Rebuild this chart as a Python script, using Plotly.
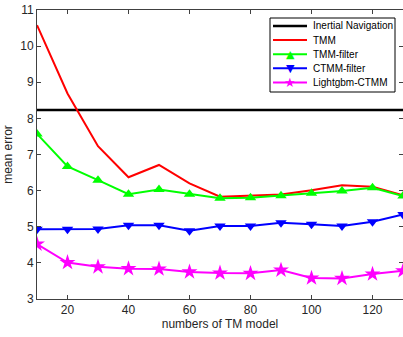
import plotly.graph_objects as go

x_vals = [10, 20, 30, 40, 50, 60, 70, 80, 90, 100, 110, 120, 130]
inertial = [8.23] * 13
tmm = [10.58, 8.69, 7.23, 6.37, 6.71, 6.20, 5.83, 5.85, 5.89, 6.01, 6.15, 6.11, 5.87]
tmm_filter = [7.57, 6.67, 6.29, 5.90, 6.03, 5.90, 5.79, 5.80, 5.86, 5.93, 5.99, 6.08, 5.85]
ctmm_filter = [4.93, 4.93, 4.94, 5.04, 5.04, 4.89, 5.02, 5.02, 5.11, 5.07, 5.02, 5.14, 5.34]
lightgbm = [4.52, 4.01, 3.89, 3.84, 3.83, 3.75, 3.72, 3.71, 3.80, 3.58, 3.57, 3.69, 3.78]
x_ticks = [20, 40, 60, 80, 100, 120]
y_ticks = [3, 4, 5, 6, 7, 8, 9, 10, 11]

series_names = ["Inertial Navigation", "TMM", "TMM-filter", "CTMM-filter", "Lightgbm-CTMM"]
series_values = [inertial, tmm, tmm_filter, ctmm_filter, lightgbm]
series_colors = ["#000000", "#ff0000", "#00ff00", "#0000ff", "#ff00ff"]
series_symbols = [None, None, "triangle-up", "triangle-down", "star"]
legend_glyphs = {"triangle-up": "▲", "triangle-down": "▼", "star": "★"}

# layout geometry (pixels)
W, H = 403, 337
ML, MR, MT, MB = 37, 0, 10, 38
PW, PH = W - ML - MR, H - MT - MB

def px_x(px):
    return (px - ML) / PW

def px_y(py):
    return 1 - (py - MT) / PH

fig = go.Figure()
for name, vals, color, sym in zip(series_names, series_values, series_colors, series_symbols):
    width = 2.5 if name.startswith("Inertial") else 2
    if sym is None:
        fig.add_trace(go.Scatter(x=x_vals, y=vals, mode="lines", name=name,
                                 line=dict(color=color, width=width), showlegend=False))
    else:
        fig.add_trace(go.Scatter(x=x_vals, y=vals, mode="lines+markers", name=name,
                                 line=dict(color=color, width=width),
                                 marker=dict(symbol=sym, size=12 if sym == "star" else 10, color=color),
                                 showlegend=False))

# legend box drawn as layout decoration
LG_L, LG_R, LG_T, LG_B = 270, 395, 18, 92
row0, row_gap = 26, 14.1
shapes = [dict(type="rect", xref="paper", yref="paper",
               x0=px_x(LG_L), x1=px_x(LG_R), y0=px_y(LG_B), y1=px_y(LG_T),
               line=dict(color="black", width=1), fillcolor="white", layer="above")]
annotations = []
for i, (name, color, sym) in enumerate(zip(series_names, series_colors, series_symbols)):
    yc = row0 + i * row_gap
    shapes.append(dict(type="line", xref="paper", yref="paper",
                       x0=px_x(273), x1=px_x(307), y0=px_y(yc), y1=px_y(yc),
                       line=dict(color=color, width=2.5 if i == 0 else 2), layer="above"))
    annotations.append(dict(xref="paper", yref="paper", x=px_x(311), y=px_y(yc),
                            xanchor="left", yanchor="middle", text=name, showarrow=False,
                            font=dict(family="Liberation Sans, Arial", size=10, color="black")))
    if sym is not None:
        annotations.append(dict(xref="paper", yref="paper", x=px_x(290), y=px_y(yc),
                                xanchor="center", yanchor="middle", text=legend_glyphs[sym],
                                showarrow=False,
                                font=dict(family="DejaVu Sans", size=13 if sym == "star" else 11, color=color)))

axis_common = dict(showline=True, linecolor="#404040", linewidth=1, mirror="ticks",
                   ticks="inside", ticklen=4, tickcolor="#404040", showgrid=False,
                   zeroline=False, automargin=False,
                   tickfont=dict(family="Liberation Sans, Arial", size=12, color="#262626"))

fig.update_layout(
    width=W, height=H,
    margin=dict(l=ML, r=MR, t=MT, b=MB),
    paper_bgcolor="white", plot_bgcolor="white",
    font=dict(family="Liberation Sans, Arial", size=12, color="#262626"),
    xaxis=dict(range=[10, 130], tickvals=x_ticks,
               title=dict(text="numbers of TM model", standoff=2, font=dict(size=12)),
               **axis_common),
    yaxis=dict(range=[3, 11], tickvals=y_ticks,
               title=dict(text="mean error", standoff=5, font=dict(size=12)),
               **axis_common),
    shapes=shapes,
    annotations=annotations,
    showlegend=False,
)

fig.write_html("out.html", config={"displayModeBar": False},
               post_script="document.body.style.margin='0';document.body.style.overflow='hidden';")
